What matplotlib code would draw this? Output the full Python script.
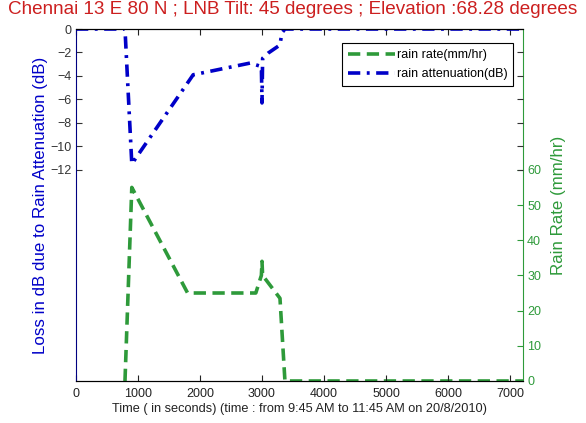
import matplotlib.pyplot as plt

plt.rcParams['font.family'] = ['Liberation Sans', 'DejaVu Sans']

# Data
time_rate = [790, 900, 1800, 2900, 2990, 3000, 3010, 3290, 3370, 7210]
rain_rate = [0, 55, 25, 25, 30, 34, 30, 23.5, 0, 0]

time_att = [0, 790, 900, 1890, 2810, 2990, 3000, 3010, 3100, 3290, 3320, 3370, 7210]
rain_att = [0, 0, -11.5, -3.9, -2.9, -3.2, -6.3, -2.5, -2.05, -1.36, -0.34, 0, 0]

left_ticks = [0, -2, -4, -6, -8, -10, -12]
right_ticks = [0, 10, 20, 30, 40, 50, 60]
x_ticks = [0, 1000, 2000, 3000, 4000, 5000, 6000, 7000]

blue = '#0000c8'
green = '#2e9a3a'

fig = plt.figure(figsize=(5.86, 4.23), dpi=100)
ax = fig.add_axes([0.1297, 0.0993, 0.7628, 0.8321])
ax2 = ax.twinx()

l2, = ax2.plot(time_rate, rain_rate, color=green, lw=2.6, dashes=(3.4, 1.8),
               label='rain rate(mm/hr)')
l1, = ax.plot(time_att, rain_att, color=blue, lw=2.6, dashes=(3.4, 1.8, 0.8, 1.8),
              label='rain attenuation(dB)')
ax.set_zorder(ax2.get_zorder() + 1)
ax.patch.set_visible(False)

ax.set_xlim(0, 7210)
ax.set_ylim(-30, 0)
ax2.set_ylim(0, 100)
ax.set_xticks(x_ticks)
ax.set_yticks(left_ticks)
ax2.set_yticks(right_ticks)

ax.tick_params(axis='x', direction='in', top=True, length=4, labelsize=9,
               colors='#222222', pad=5)
ax.tick_params(axis='y', direction='in', right=True, length=4, labelsize=9,
               colors='#333333', pad=3)
ax2.tick_params(axis='y', direction='in', length=4, labelsize=9,
                colors=green, pad=3)

ax.spines['left'].set_color('#000080')
ax2.spines['right'].set_color(green)
ax2.spines['left'].set_visible(False)
ax.spines['right'].set_visible(False)

ax.set_ylabel('Loss in dB due to Rain Attenuation (dB)', color=blue,
              fontsize=12.2, labelpad=2)
ax2.set_ylabel('Rain Rate (mm/hr)', color=green, fontsize=12.2, labelpad=7)
ax.set_xlabel('Time ( in seconds) (time : from 9:45 AM to 11:45 AM on 20/8/2010)',
              fontsize=9.2, color='#222222', labelpad=2)
fig.suptitle('Chennai 13 E 80 N ; LNB Tilt: 45 degrees ; Elevation :68.28 degrees',
             color='#cc1f1f', fontsize=13.6, y=0.998)

leg = ax.legend([l2, l1], ['rain rate(mm/hr)', 'rain attenuation(dB)'],
                loc='upper right', bbox_to_anchor=(0.992, 0.977), fontsize=9,
                fancybox=False, edgecolor='black', framealpha=1,
                handlelength=3.8, handletextpad=0.15, borderpad=0.45,
                labelspacing=0.6)
leg.get_frame().set_linewidth(0.8)

plt.savefig('out.png', dpi=100)
plt.close()
